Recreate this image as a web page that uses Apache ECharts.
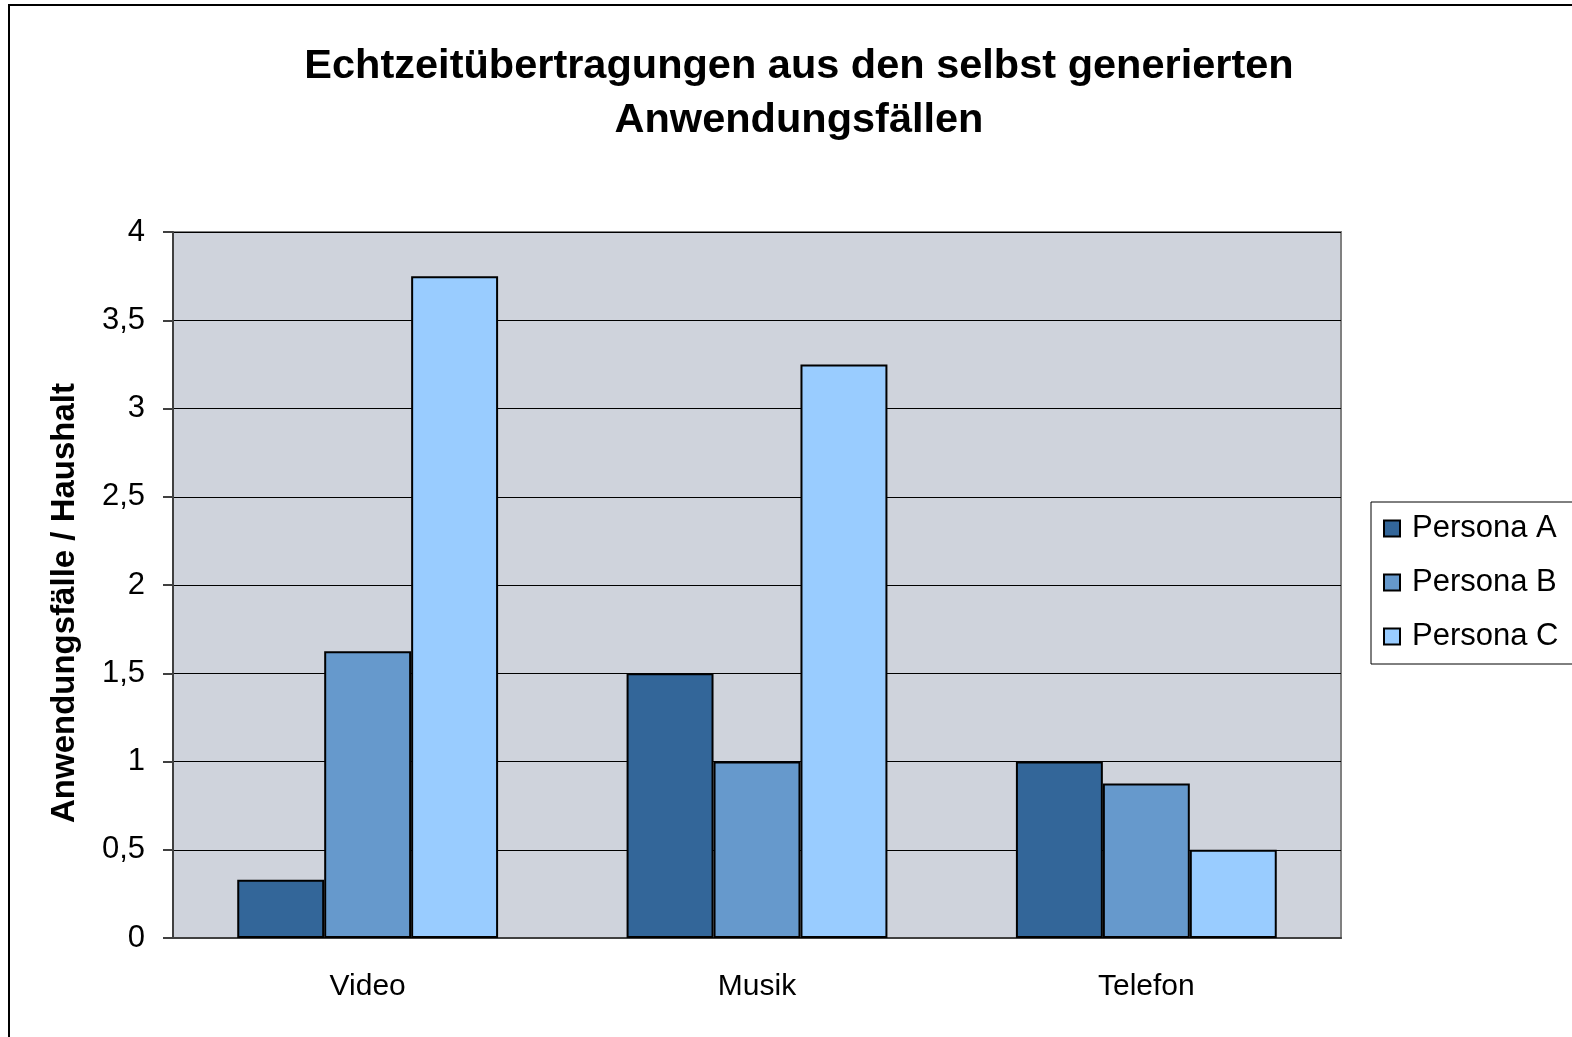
<!DOCTYPE html>
<html>
<head>
<meta charset="utf-8">
<script src="https://cdn.jsdelivr.net/npm/echarts@6/dist/echarts.min.js"></script>
<style>
html, body { margin: 0; padding: 0; background: #fff; }
#main { width: 1572px; height: 1037px; }
</style>
</head>
<body>
<div id="main"></div>
<script>
// Daten aus dem Diagramm
var categories = ['Video', 'Musik', 'Telefon']
var seriesNames = ['Persona A', 'Persona B', 'Persona C']
var personaA = [0.33, 1.5, 1]
var personaB = [1.625, 1, 0.875]
var personaC = [3.75, 3.25, 0.5]
var colors = ['#336699', '#6699CC', '#99CCFF']
var titleLines = ['Echtzeitübertragungen aus den selbst generierten', 'Anwendungsfällen']
var yName = 'Anwendungsfälle / Haushalt'

var font = '"Liberation Sans", Arial, sans-serif'
var char1 = echarts.init(document.getElementById('main'))

var values = [personaA, personaB, personaC]
var series = []
for (var i = 0; i < seriesNames.length; i++) {
    series.push({
        name: seriesNames[i],
        type: 'bar',
        data: values[i],
        barGap: '0%',
        barCategoryGap: '33%',
        itemStyle: {
            color: colors[i],
            borderColor: '#000',
            borderWidth: 2
        }
    })
}

var option1 = {
    animation: false,
    backgroundColor: '#fff',
    color: colors,
    graphic: [
        {
            type: 'rect',
            shape: { x: 9, y: 5, width: 1700, height: 1200 },
            style: { fill: 'none', stroke: '#000', lineWidth: 2 },
            z: -10
        },
        {
            type: 'text',
            x: 799, y: 94,
            style: {
                text: titleLines.join('\n'),
                font: 'bold 41.5px ' + font,
                fill: '#000',
                align: 'center',
                verticalAlign: 'middle',
                lineHeight: 54
            }
        },
        {
            type: 'text',
            x: 65, y: 603,
            rotation: Math.PI / 2,
            style: {
                text: yName,
                font: 'bold 33px ' + font,
                fill: '#000',
                align: 'center',
                verticalAlign: 'middle'
            }
        }
    ],
    legend: {
        data: seriesNames,
        orient: 'vertical',
        left: 1371,
        top: 502,
        padding: [11, 40, 12, 12],
        itemGap: 23,
        itemWidth: 16,
        itemHeight: 16,
        borderColor: '#000',
        borderWidth: 1,
        icon: 'rect',
        textStyle: {
            fontFamily: font,
            fontSize: 31,
            color: '#000',
            padding: [0, 0, 0, 7]
        }
    },
    grid: {
        left: 173,
        right: 231,
        top: 232,
        bottom: 99,
        show: true,
        backgroundColor: '#CFD3DC',
        borderColor: '#808080',
        borderWidth: 2
    },
    xAxis: {
        type: 'category',
        data: categories,
        axisLine: { lineStyle: { color: '#404040', width: 2 } },
        axisTick: { length: 10, lineStyle: { color: '#404040', width: 2 } },
        axisLabel: {
            margin: 34,
            fontFamily: font,
            fontSize: 30,
            color: '#000'
        }
    },
    yAxis: {
        type: 'value',
        min: 0,
        max: 4,
        interval: 0.5,
        axisLine: { show: true, lineStyle: { color: '#404040', width: 2 } },
        axisTick: { show: true, length: 10, lineStyle: { color: '#404040', width: 2 } },
        splitLine: { lineStyle: { color: '#000', width: 1 } },
        axisLabel: {
            margin: 28,
            fontFamily: font,
            fontSize: 31,
            color: '#000',
            formatter: function (v) {
                return String(v).replace('.', ',')
            }
        }
    },
    series: series
}

char1.setOption(option1)
</script>
</body>
</html>
